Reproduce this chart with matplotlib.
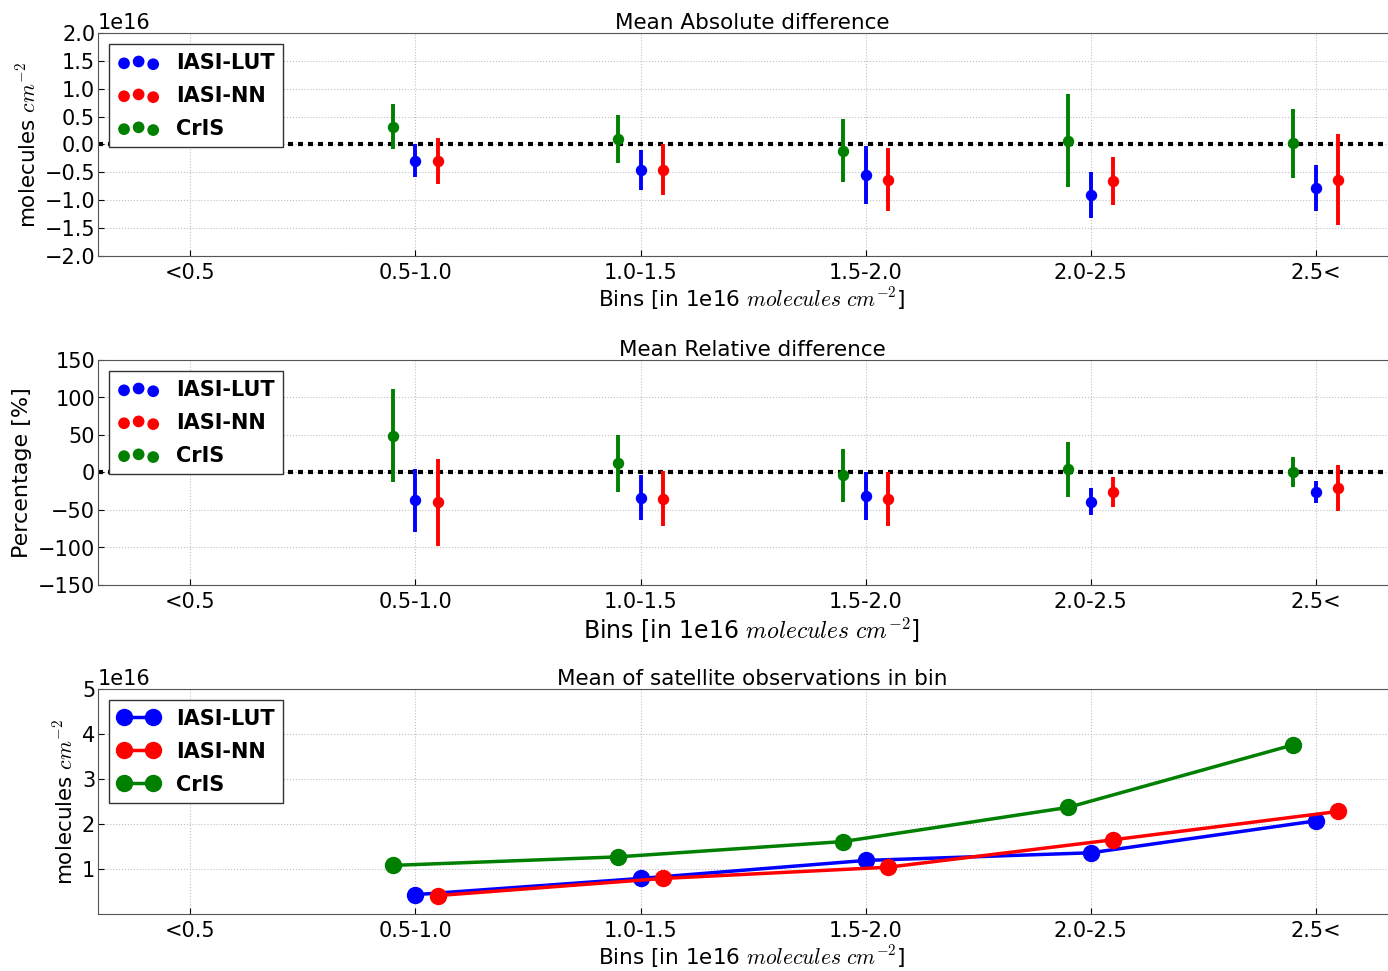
import numpy as np
import matplotlib
matplotlib.use('Agg')
import matplotlib.pyplot as plt

plt.rcParams['mathtext.fontset'] = 'cm'
plt.rcParams['font.family'] = 'DejaVu Sans'

# ── Data (values in units of 1e16 molecules cm^-2 for panels 1 and 3) ─────
BINS   = ["<0.5", "0.5-1.0", "1.0-1.5", "1.5-2.0", "2.0-2.5", "2.5<"]
SERIES = ["IASI-LUT", "IASI-NN", "CrIS"]
SCALE  = 1e16

# mean absolute difference (bins 0.5-1.0 ... 2.5<)
abs_mean = {
    "IASI-LUT": [-0.29, -0.45, -0.54, -0.90, -0.78],
    "IASI-NN":  [-0.30, -0.45, -0.63, -0.65, -0.63],
    "CrIS":     [0.32, 0.10, -0.11, 0.07, 0.02],
}
abs_err = {
    "IASI-LUT": [0.30, 0.36, 0.52, 0.41, 0.42],
    "IASI-NN":  [0.41, 0.45, 0.57, 0.43, 0.81],
    "CrIS":     [0.40, 0.43, 0.56, 0.84, 0.62],
}

# mean relative difference [%]
rel_mean = {
    "IASI-LUT": [-37, -34, -31, -39, -26],
    "IASI-NN":  [-40, -35, -35, -26, -21],
    "CrIS":     [49, 12, -4, 4, 1],
}
rel_err = {
    "IASI-LUT": [42, 30, 32, 18, 15],
    "IASI-NN":  [58, 37, 36, 20, 31],
    "CrIS":     [62, 38, 35, 37, 20],
}

# mean of satellite observations in bin
obs_mean = {
    "IASI-LUT": [0.43, 0.79, 1.19, 1.36, 2.07],
    "IASI-NN":  [0.41, 0.79, 1.04, 1.65, 2.28],
    "CrIS":     [1.08, 1.27, 1.61, 2.37, 3.76],
}

colors  = {"IASI-LUT": "#0000ff", "IASI-NN": "#ff0000", "CrIS": "#008000"}
offsets = {"IASI-LUT": 0.0, "IASI-NN": 0.1, "CrIS": -0.1}
x_bins  = np.arange(1, len(BINS))   # no data in the first bin

XLABEL = r"Bins [in 1e16 $molecules\ cm^{-2}$]"
FS = 15

fig = plt.figure(figsize=(13.88, 9.71), dpi=100)
W, H = 1388.0, 971.0
left, right = 98 / W, 1406 / W

def make_ax(top_px, bot_px):
    return fig.add_axes([left, 1 - bot_px / H, right - left, (bot_px - top_px) / H])

ax1 = make_ax(33, 256)
ax2 = make_ax(360, 585)
ax3 = make_ax(689, 914)

legend_kw = dict(loc='upper left', prop={'weight': 'bold', 'size': FS},
                 fancybox=False, edgecolor='#333333', framealpha=1,
                 borderaxespad=0.55, handletextpad=0.8, labelspacing=0.62)

def style_ax(ax, title, xlabel_size=15.5):
    ax.set_xlim(-0.41, 5.4)
    ax.set_xticks(np.arange(len(BINS)))
    ax.set_xticklabels(BINS)
    ax.grid(True, color='#c0c0c0', ls=':', lw=0.8)
    ax.set_axisbelow(True)
    ax.tick_params(direction='in', labelsize=FS, length=4)
    ax.tick_params(axis='x', pad=5)
    ax.tick_params(axis='y', pad=2)
    ax.set_title(title, fontsize=15.5, pad=2)
    ax.set_xlabel(XLABEL, fontsize=xlabel_size, labelpad=2)
    for sp in ax.spines.values():
        sp.set_color('#555555')

def errorbar_panel(ax, means, errs, scale):
    ax.axhline(0, color='k', ls=(0, (1.2, 1.2)), lw=3.0, zorder=2)
    for s in ["CrIS", "IASI-LUT", "IASI-NN"]:
        xs = x_bins + offsets[s]
        m = np.array(means[s]) * scale
        e = np.array(errs[s]) * scale
        ax.errorbar(xs, m, yerr=e, fmt='none', ecolor=colors[s], elinewidth=2.8,
                    capsize=0, zorder=3)
        ax.scatter(xs, m, s=52, color=colors[s], zorder=4)
    handles = [ax.scatter([], [], s=55, color=colors[s], label=s) for s in SERIES]
    ax.legend(handles=handles, scatterpoints=3,
              scatteryoffsets=[0.375, 0.5, 0.3125], **legend_kw)

# ── Panel 1: mean absolute difference ──────────────────────────────────────
errorbar_panel(ax1, abs_mean, abs_err, SCALE)
style_ax(ax1, "Mean Absolute difference")
ax1.set_ylim(-2.0 * SCALE, 2.0 * SCALE)
ax1.set_yticks(np.arange(-2.0, 2.01, 0.5) * SCALE)
ax1.set_ylabel(r"molecules $cm^{-2}$", fontsize=15.5, labelpad=4)
ax1.yaxis.get_offset_text().set_fontsize(FS)

# ── Panel 2: mean relative difference ──────────────────────────────────────
errorbar_panel(ax2, rel_mean, rel_err, 1)
style_ax(ax2, "Mean Relative difference", xlabel_size=17)
ax2.set_ylim(-150, 150)
ax2.set_yticks(np.arange(-150, 151, 50))
ax2.set_ylabel("Percentage [%]", fontsize=16, labelpad=4)

# ── Panel 3: mean of observations ──────────────────────────────────────────
for s in SERIES:
    ax3.plot(x_bins + offsets[s], np.array(obs_mean[s]) * SCALE, '-o', color=colors[s],
             lw=2.5, ms=11.5, mec=colors[s], label=s, zorder=3)
style_ax(ax3, "Mean of satellite observations in bin")
ax3.set_ylim(0, 5 * SCALE)
ax3.set_yticks(np.arange(1, 6) * SCALE)
ax3.set_ylabel(r"molecules $cm^{-2}$", fontsize=15.5, labelpad=4)
ax3.yaxis.get_offset_text().set_fontsize(FS)
ax3.legend(numpoints=2, handlelength=2.0, **legend_kw)

fig.savefig("out.png", dpi=100)
